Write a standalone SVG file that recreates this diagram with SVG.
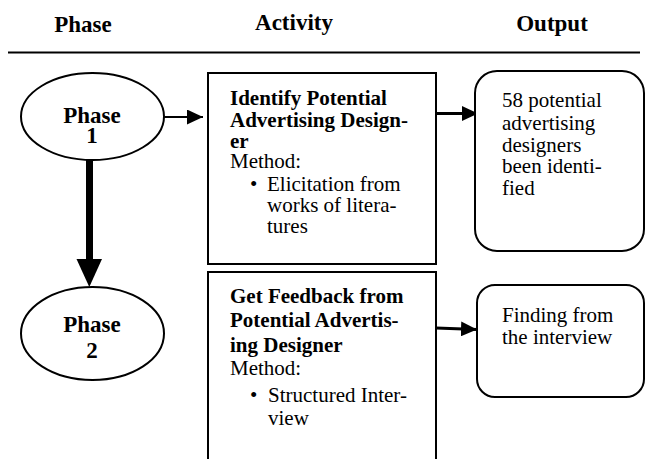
<svg xmlns="http://www.w3.org/2000/svg" width="646" height="459" viewBox="0 0 646 459">
<style>
text{font-family:"Liberation Serif","Times New Roman",serif;fill:#000}
.h{font-size:23px;font-weight:bold;text-anchor:middle}
.b{font-size:21px;font-weight:bold}
.r{font-size:21px}
.ph{font-size:23px;font-weight:bold;text-anchor:middle}
.shape{fill:#fff;stroke:#000;stroke-width:2}
.conn{stroke:#000;fill:none}
</style>
<defs>
<marker id="ah" viewBox="0 0 16 15" refX="16" refY="7.5" markerWidth="16" markerHeight="15" markerUnits="userSpaceOnUse" orient="auto">
<path d="M0,0 L16,7.5 L0,15 z" fill="#000"/>
</marker>
</defs>
<rect width="646" height="459" fill="#fff"/>
<g id="header">
<text class="h" x="83" y="31.5">Phase</text>
<text class="h" x="294" y="30">Activity</text>
<text class="h" x="552" y="30.5">Output</text>
<line x1="8" y1="52.5" x2="640" y2="52.5" stroke="#000" stroke-width="2.2"/>
</g>
<g id="connectors">
<line class="conn" x1="164" y1="117" x2="203" y2="117" stroke-width="2" marker-end="url(#ah)"/>
<line class="conn" x1="436" y1="113.5" x2="478" y2="113.5" stroke-width="3" marker-end="url(#ah)"/>
<line class="conn" x1="436" y1="328" x2="477" y2="329.5" stroke-width="3" marker-end="url(#ah)"/>
<rect x="86" y="158" width="7" height="102" fill="#000"/>
<polygon points="76.5,259 102,259 89.3,287" fill="#000"/>
</g>
<g id="phase1">
<ellipse class="shape" cx="92.5" cy="116.5" rx="71.5" ry="43.5" stroke-width="1.8"/>
<text class="ph" x="92" y="123">Phase</text>
<text class="ph" x="92" y="142.5">1</text>
</g>
<g id="phase2">
<ellipse class="shape" cx="92.5" cy="333.5" rx="71.5" ry="46.5" stroke-width="1.8"/>
<text class="ph" x="92" y="332">Phase</text>
<text class="ph" x="92" y="358">2</text>
</g>
<g id="activity1">
<rect class="shape" x="208" y="73" width="228" height="191"/>
<text class="b" x="230" y="105">Identify Potential</text>
<text class="b" x="230" y="126.5">Advertising Design-</text>
<text class="b" x="230" y="147.5">er</text>
<text class="r" x="230" y="167.5">Method:</text>
<text class="r" x="250" y="190.5">•</text>
<text class="r" x="267" y="190.5">Elicitation from</text>
<text class="r" x="267" y="211.5">works of litera-</text>
<text class="r" x="267" y="233">tures</text>
</g>
<g id="activity2">
<rect class="shape" x="208" y="272" width="228" height="200"/>
<text class="b" x="230" y="302.5">Get Feedback from</text>
<text class="b" x="230" y="326.5">Potential Advertis-</text>
<text class="b" x="230" y="351.5">ing Designer</text>
<text class="r" x="230" y="375">Method:</text>
<text class="r" x="250" y="401.5">•</text>
<text class="r" x="268" y="401.5">Structured Inter-</text>
<text class="r" x="268" y="425">view</text>
</g>
<g id="output1">
<rect class="shape" x="475" y="71" width="169" height="180" rx="22" ry="22"/>
<text class="r" x="502" y="106.5">58 potential</text>
<text class="r" x="502" y="129.5">advertising</text>
<text class="r" x="502" y="151.5">designers</text>
<text class="r" x="502" y="173">been identi-</text>
<text class="r" x="502" y="195">fied</text>
</g>
<g id="output2">
<rect class="shape" x="477" y="285" width="167" height="112" rx="18" ry="18"/>
<text class="r" x="502" y="321.5">Finding from</text>
<text class="r" x="502" y="344">the interview</text>
</g>
</svg>
